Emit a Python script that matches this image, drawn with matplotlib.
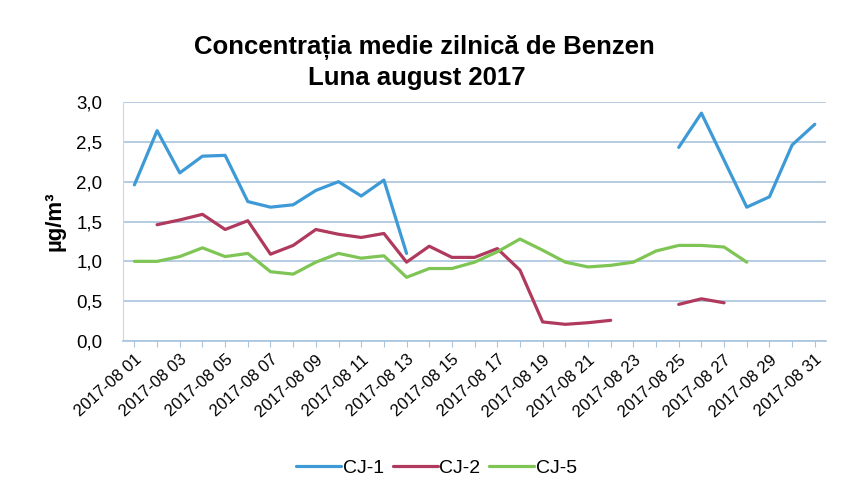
import numpy as np
import matplotlib
matplotlib.use("Agg")
import matplotlib.pyplot as plt

nan = np.nan
days = list(range(1, 32))
tick_labels = [f"2017-08 {d:02d}" for d in days]

cj1 = [1.96, 2.64, 2.11, 2.32, 2.33, 1.75, 1.68, 1.71, 1.89, 2.00, 1.82, 2.02, 1.10,
       nan, nan, nan, nan, nan, nan, nan, nan, nan, nan, nan,
       2.43, 2.86, 2.27, 1.68, 1.81, 2.46, 2.72]
cj2 = [nan, 1.46, 1.52, 1.59, 1.40, 1.51, 1.09, 1.20, 1.40, 1.34, 1.30, 1.35, 0.99,
       1.19, 1.05, 1.05, 1.16, 0.89, 0.24, 0.21, 0.23, 0.26, nan, nan,
       0.46, 0.53, 0.48, nan, nan, nan, nan]
cj5 = [1.00, 1.00, 1.06, 1.17, 1.06, 1.10, 0.87, 0.84, 0.99, 1.10, 1.04, 1.07, 0.80,
       0.91, 0.91, 0.99, 1.12, 1.28, 1.14, 0.99, 0.93, 0.95, 0.99, 1.13,
       1.20, 1.20, 1.18, 0.99, nan, nan, nan]

series = [("CJ-1", cj1, "#3d9ad6"), ("CJ-2", cj2, "#b03a5e"), ("CJ-5", cj5, "#7fc555")]

plt.rcParams['font.family'] = ['Liberation Sans', 'DejaVu Sans']

fig = plt.figure(figsize=(8.43, 4.95), dpi=100)
ax = fig.add_axes([0.146, 0.311, 0.834, 0.483])

for name, vals, col in series:
    ax.plot(days, vals, color=col, lw=2.3, label=name, solid_capstyle='round')

ax.set_xlim(0.5, 31.5)
ax.set_ylim(0, 3.0)
yt = [0, 0.5, 1.0, 1.5, 2.0, 2.5, 3.0]
ax.set_yticks(yt)
ax.set_yticklabels([f"{v:.1f}".replace('.', ',') for v in yt], fontsize=13.5)
ax.yaxis.grid(True, color="#a9c4dc", lw=1.2)
ax.set_axisbelow(True)

ax.set_xticks(days)
ax.set_xticklabels([lab if (i % 2 == 0) else "" for i, lab in enumerate(tick_labels)],
                   rotation=42, ha='right', rotation_mode='anchor', fontsize=12)
ax.tick_params(axis='x', length=4, color="#a9c4dc", pad=4)
ax.tick_params(axis='y', length=0, pad=15)

for s in ['top', 'right']:
    ax.spines[s].set_visible(False)
ax.spines['left'].set_color("#c8d8e8")
ax.spines['bottom'].set_color("#a9c4dc")
ax.spines['bottom'].set_linewidth(1.2)

ax.set_ylabel("µg/m³", fontsize=16, fontweight='bold', labelpad=8)

fig.text(0.504, 0.905, "Concentrația medie zilnică de Benzen", ha='center', va='center',
         fontsize=18.5, fontweight='bold')
fig.text(0.494, 0.842, "Luna august 2017", ha='center', va='center',
         fontsize=18.5, fontweight='bold')

fig.legend(loc='center', bbox_to_anchor=(0.518, 0.055), ncol=3, frameon=False,
           fontsize=14, handlelength=2.3, columnspacing=0.45, handletextpad=0.1)

fig.savefig("out.png", dpi=100)
